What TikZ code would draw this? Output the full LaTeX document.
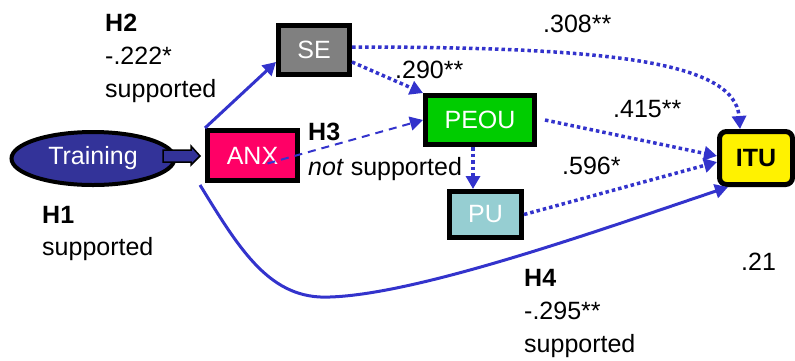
\documentclass[tikz,border=0pt]{standalone}
\usepackage{fontspec}
\setmainfont{Liberation Sans}
\usetikzlibrary{shapes.geometric,arrows.meta}

\definecolor{pathblue}{RGB}{51,51,204}
\definecolor{trainblue}{RGB}{51,51,153}
\definecolor{anxpink}{RGB}{255,0,102}
\definecolor{segray}{RGB}{128,128,128}
\definecolor{peougreen}{RGB}{0,204,0}
\definecolor{puteal}{RGB}{150,206,210}

\begin{document}
\begin{tikzpicture}[x=1pt, y=-1pt,
    box/.style={draw=black, line width=5pt, inner sep=0pt, text=white, font=\fontsize{25}{30}\selectfont},
    lbl/.style={anchor=base west, inner sep=0pt, font=\fontsize{25}{30}\selectfont},
    solarr/.style={draw=pathblue, line width=3pt, -{Triangle[length=13pt,width=14pt]}},
    dotarr/.style={draw=pathblue, line width=3.5pt, dash pattern=on 3.5pt off 3pt, -{Triangle[length=13pt,width=14pt]}}]
            \useasboundingbox (0,0) rectangle (795,360);

            % constructs
            \node[ellipse, draw=black, line width=4pt, fill=trainblue, text=white, inner sep=0pt,
                minimum width=163pt, minimum height=53pt, font=\fontsize{25}{30}\selectfont]
                (train) at (93,158.5) {Training};
            \node[box, fill=anxpink, minimum width=90pt, minimum height=50pt] (anx) at (252.5,155.5) {ANX};
            \node[box, fill=segray, minimum width=71pt, minimum height=49pt] (se) at (314,50) {SE};
            \node[box, fill=peougreen, minimum width=109pt, minimum height=49pt] (peou) at (480,120) {PEOU};
            \node[box, fill=puteal, minimum width=72pt, minimum height=46pt] (pu) at (485.5,214.5) {PU};
            \node[box, fill=yellow, text=black, rounded corners=7pt, minimum width=73pt, minimum height=53pt,
                font=\fontsize{25}{30}\selectfont\bfseries] (itu) at (756,158) {ITU};

            % block arrow training -> anx
            \draw[fill=trainblue, line width=1.5pt]
                (163,150) -- (191,150) -- (191,146) -- (200,156) -- (191,165) -- (191,162) -- (163,162) -- cycle;

            % paths
            \draw[solarr] (anx.north west) -- ([yshift=-12pt]se.west);
            \draw[draw=pathblue, line width=2pt, dash pattern=on 8pt off 6pt, -{Triangle[length=13pt,width=14pt]}]
                ([xshift=15pt,yshift=-8pt]anx.center) -- (peou.west);
            \draw[dotarr] ([yshift=-12pt]se.east) -- (peou.north west);
            \draw[dotarr] ([yshift=3pt]se.east) .. controls (600,47) and (735,60) .. ([xshift=-16pt]itu.north);
            \draw[dotarr] ([xshift=8pt]peou.east) -- ([yshift=2pt]itu.west);
            \draw[dotarr] ([xshift=-7pt]peou.south) -- ([xshift=-12.5pt]pu.north);
            \draw[dotarr] (pu.east) -- ([yshift=-4pt]itu.west);
            \draw[solarr] ([xshift=-5pt,yshift=-2pt]anx.south west)
                .. controls (240,250) and (270,300) .. (330,297)
                .. controls (420,294) and (600,230) .. ([xshift=-28pt]itu.south);

            % coefficients
            \node[lbl] (h2a) at (105,31) {\textbf{H2}};
            \node[lbl] (h2b) at (105,64) {-.222*};
            \node[lbl] (h2c) at (105,97) {supported};
            \node[lbl] (h1a) at (42,223) {\textbf{H1}};
            \node[lbl] (h1b) at (42,255) {supported};
            \node[lbl] (h3a) at (308,140) {\textbf{H3}};
            \node[lbl] (h3b) at (308,175) {\textit{not} supported};
            \node[lbl] (h4a) at (524,286) {\textbf{H4}};
            \node[lbl] (h4b) at (524,319) {-.295**};
            \node[lbl] (h4c) at (524,352) {supported};
            \node[lbl] (cSeItu) at (543,32) {.308**};
            \node[lbl] (cSePeou) at (395,78) {.290**};
            \node[lbl] (cPeouItu) at (613,117) {.415**};
            \node[lbl] (cPuItu) at (562,174) {.596*};
            \node[lbl] (rsq) at (741,270) {.21};
        \end{tikzpicture}
\end{document}
